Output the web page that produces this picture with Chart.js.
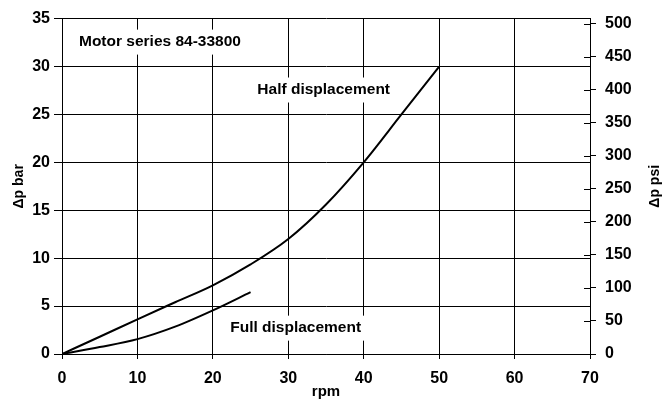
<!DOCTYPE html>
<html>
<head>
<meta charset="utf-8">
<script src="https://cdn.jsdelivr.net/npm/chart.js@4"></script>
<style>
  html, body { margin: 0; padding: 0; background: #fff; }
  #wrap { width: 669px; height: 400px; }
</style>
</head>
<body>
<div id="wrap"><canvas id="myChart" width="669" height="400"></canvas></div>
<script>
// data
const rpmHalf = [0, 5, 10, 15, 20, 25, 30, 35, 40, 45, 50];
const barHalf = [0, 1.8, 3.62, 5.4, 7.17, 9.35, 12, 15.6, 20, 25, 30];
const rpmFull = [0, 5, 10, 15, 20, 25];
const barFull = [0, 0.72, 1.55, 2.85, 4.55, 6.45];
const xTicks = [0, 10, 20, 30, 40, 50, 60, 70];
const barTicks = [0, 5, 10, 15, 20, 25, 30, 35];
const psiTicks = [0, 50, 100, 150, 200, 250, 300, 350, 400, 450, 500];
const labels = [
    { text: 'Motor series 84-33800', x: 2.25, y: 32.6 },
    { text: 'Half displacement', x: 25.9, y: 27.6 },
    { text: 'Full displacement', x: 22.3, y: 2.75 }
];
const BAR_TO_PSI = 14.5038;

const FONT = '"Liberation Sans", Arial, sans-serif';

const pts = (xs, ys) => xs.map((x, i) => ({ x: x, y: ys[i] }));

const extras = {
    id: 'extras',
    afterDatasetsDraw(chart) {
        const ctx = chart.ctx;
        const x = chart.scales.x, y = chart.scales.y, y2 = chart.scales.y2;
        ctx.save();
        // right axis ticks go through the axis
        ctx.strokeStyle = '#000';
        ctx.lineWidth = 1;
        psiTicks.forEach(v => {
            let py = Math.round(y2.getPixelForValue(v)) + 0.5;
            ctx.beginPath();
            ctx.moveTo(chart.chartArea.right - 6, py);
            ctx.lineTo(chart.chartArea.right, py);
            ctx.stroke();
        });
        // text labels with white box
        ctx.font = 'bold 15.5px ' + FONT;
        ctx.textBaseline = 'middle';
        ctx.textAlign = 'left';
        labels.forEach(l => {
            let px = x.getPixelForValue(l.x), py = y.getPixelForValue(l.y);
            let w = ctx.measureText(l.text).width;
            ctx.fillStyle = '#fff';
            ctx.fillRect(px - 6, py - 12, w + 12, 25);
            ctx.fillStyle = '#000';
            ctx.fillText(l.text, px, py);
        });
        // axis titles
        ctx.font = 'bold 14px ' + FONT;
        ctx.textAlign = 'center';
        let cy = (chart.chartArea.top + chart.chartArea.bottom) / 2;
        ctx.save();
        ctx.translate(19, cy);
        ctx.rotate(-Math.PI / 2);
        ctx.fillText('\u0394p bar', 0, 0);
        ctx.restore();
        ctx.save();
        ctx.translate(655, cy);
        ctx.rotate(-Math.PI / 2);
        ctx.fillText('\u0394p psi', 0, 0);
        ctx.restore();
        ctx.font = 'bold 15px ' + FONT;
        ctx.textBaseline = 'alphabetic';
        ctx.fillText('rpm', (chart.chartArea.left + chart.chartArea.right) / 2, 396);
        ctx.restore();
    }
};

let ctx = document.getElementById('myChart').getContext('2d');
let myChart = new Chart(ctx, {
    type: 'line',
    data: {
        datasets: [{
            label: 'Half displacement',
            data: pts(rpmHalf, barHalf),
            borderColor: '#000',
            borderWidth: 2,
            pointRadius: 0,
            cubicInterpolationMode: 'monotone',
            fill: false
        }, {
            label: 'Full displacement',
            data: pts(rpmFull, barFull),
            borderColor: '#000',
            borderWidth: 2,
            pointRadius: 0,
            cubicInterpolationMode: 'monotone',
            fill: false
        }]
    },
    options: {
        responsive: false,
        animation: false,
        layout: { padding: { top: 16, left: 0, right: 0, bottom: 0 } },
        plugins: { legend: { display: false }, tooltip: { enabled: false } },
        scales: {
            x: {
                type: 'linear',
                min: 0, max: 70,
                afterBuildTicks: s => { s.ticks = xTicks.map(v => ({ value: v })); },
                afterFit: s => { s.height = 46; },
                grid: { color: '#000', lineWidth: 1, tickLength: 5 },
                border: { color: '#000', width: 1 },
                ticks: { color: '#000', padding: 10, maxRotation: 0, font: { family: FONT, size: 16, weight: 'bold' } }
            },
            y: {
                min: 0, max: 35,
                afterBuildTicks: s => { s.ticks = barTicks.map(v => ({ value: v })); },
                afterFit: s => { s.width = 62; },
                grid: { color: '#000', lineWidth: 1, tickLength: 8 },
                border: { color: '#000', width: 1 },
                ticks: { color: '#000', padding: 4, font: { family: FONT, size: 16, weight: 'bold' } }
            },
            y2: {
                position: 'right',
                min: 0, max: 35 * BAR_TO_PSI,
                afterBuildTicks: s => { s.ticks = psiTicks.map(v => ({ value: v })); },
                afterFit: s => { s.width = 79; },
                grid: { drawOnChartArea: false, color: '#000', lineWidth: 1, tickLength: 6 },
                border: { color: '#000', width: 1 },
                ticks: { color: '#000', padding: 9, font: { family: FONT, size: 16, weight: 'bold' } }
            }
        }
    },
    plugins: [extras]
});
</script>
</body>
</html>
